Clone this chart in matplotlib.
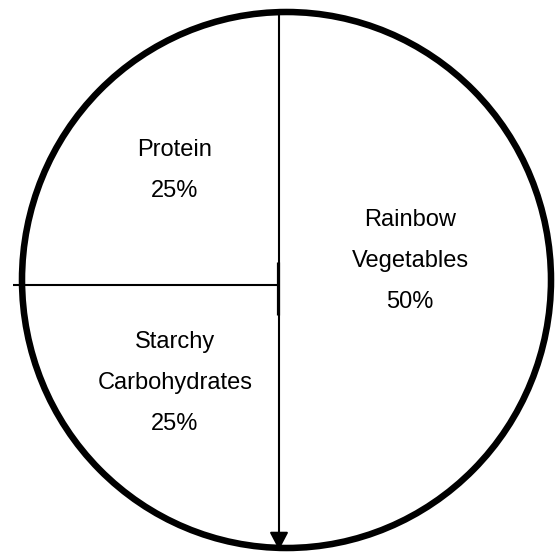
import matplotlib.pyplot as plt
from matplotlib.patches import Ellipse

plt.rcParams['font.family'] = ['Liberation Sans', 'DejaVu Sans']

# Plate portions
categories = ["Protein", "Starchy\nCarbohydrates", "Rainbow\nVegetables"]
shares = [25, 25, 50]

W, H = 555, 552
fig = plt.figure(figsize=(W / 100, H / 100), dpi=100)
ax = fig.add_axes([0, 0, 1, 1])
ax.set_xlim(0, W)
ax.set_ylim(H, 0)  # image style: y grows downwards
ax.axis('off')

cx, cy = 286.5, 280

# white plate wedges (counterclockwise in screen terms -> flip)
ax.pie(shares, center=(cx, cy), radius=265, startangle=-90, counterclock=True,
       colors=['white'] * len(shares), wedgeprops=dict(edgecolor='none'),
       frame=True)
ax.set_xlim(0, W)
ax.set_ylim(H, 0)
ax.axis('off')

# plate rim
ax.add_patch(Ellipse((cx, cy), 529, 536, fill=False, edgecolor='black', lw=4.7, zorder=5))

# dividers
ax.annotate('', xy=(279, 550), xytext=(279, 12),
            arrowprops=dict(arrowstyle='-|>,head_length=0.4,head_width=0.21',
                            color='black', lw=1.5, mutation_scale=27,
                            shrinkA=0, shrinkB=0), zorder=6)
ax.plot([13, 279], [285, 285], color='black', lw=1.5, solid_capstyle='butt', zorder=6)
ax.plot([277.5, 277.5], [262, 315], color='black', lw=2.3, solid_capstyle='butt', zorder=6)

# labels: x centre and first baseline for each portion
label_x = [175, 175, 410]
label_y0 = [156, 348, 226]
step = 41
for name, share, x, y0 in zip(categories, shares, label_x, label_y0):
    lines = name.split("\n") + [f"{share}%"]
    for i, line in enumerate(lines):
        ax.text(x, y0 + i * step, line, ha='center', va='baseline', fontsize=17, color='black')

fig.savefig('out.png', dpi=100)
